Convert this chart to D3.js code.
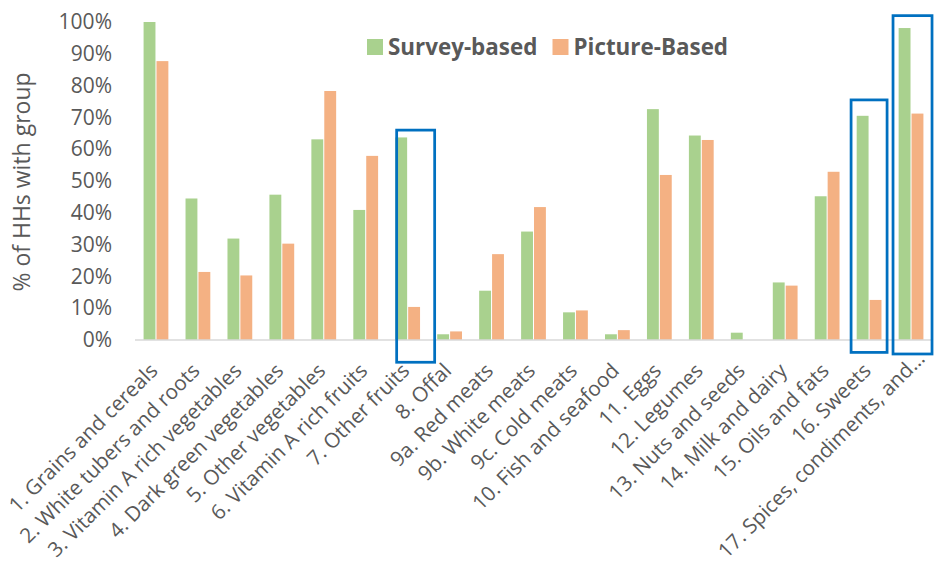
<!DOCTYPE html>
<html>
<head>
<meta charset="utf-8">
<script src="https://cdn.jsdelivr.net/npm/d3@7"></script>
<style>
  html, body { margin: 0; padding: 0; background: #fff; }
  svg { display: block; font-family: "Open Sans", "Noto Sans", sans-serif; }
</style>
</head>
<body>
<svg id="chart" width="941" height="564"></svg>
<script>
// Food groups reported per household
const categories = [
  "1. Grains and cereals", "2. White tubers and roots", "3. Vitamin A rich vegetables",
  "4. Dark green vegetables", "5. Other vegetables", "6. Vitamin A rich fruits",
  "7. Other fruits", "8. Offal", "9a. Red meats", "9b. White meats", "9c. Cold meats",
  "10. Fish and seafood", "11. Eggs", "12. Legumes", "13. Nuts and seeds",
  "14. Milk and dairy", "15. Oils and fats", "16. Sweets", "17. Spices, condiments, and…"
];
// % of households with each group
const surveyBased  = [100, 44.5, 31.9, 45.7, 63.1, 40.9, 63.7, 1.8, 15.5, 34.1, 8.7, 1.8, 72.6, 64.3, 2.3, 18.1, 45.2, 70.5, 98.1];
const pictureBased = [87.7, 21.4, 20.3, 30.3, 78.3, 57.9, 10.4, 2.7, 27.0, 41.8, 9.3, 3.1, 51.9, 62.9, 0, 17.1, 52.9, 12.6, 71.2];
const seriesNames = ["Survey-based", "Picture-Based"];
const yTicks = [0, 10, 20, 30, 40, 50, 60, 70, 80, 90, 100];
// Groups outlined for emphasis, with the value range each outline spans
const highlightGroups = ["7. Other fruits", "16. Sweets", "17. Spices, condiments, and…"];
const highlightTop    = [66, 75.5, 102];
const highlightBottom = [-7, -3.9, -4.4];

const colors = ["#A9D18E", "#F4B183"];
const textColor = "#595959";

const svg = d3.select("#chart");

const x0 = d3.scaleBand().domain(categories).range([135, 932])
  .paddingInner(0.36).paddingOuter(0.18);
const x1 = d3.scaleBand().domain(seriesNames).range([0, x0.bandwidth()]).padding(0.08);
const y = d3.scaleLinear().domain([0, 100]).range([340, 22]);

const rows = categories.map((c, i) => ({ cat: c, vals: [surveyBased[i], pictureBased[i]] }));

// Bars
const groups = svg.append("g").selectAll("g").data(rows).join("g")
  .attr("transform", d => `translate(${x0(d.cat)},0)`);
groups.selectAll("rect")
  .data(d => d.vals.map((v, k) => ({ k, v })).filter(e => e.v > 0))
  .join("rect")
  .attr("x", e => x1(seriesNames[e.k]))
  .attr("width", x1.bandwidth())
  .attr("y", e => y(e.v))
  .attr("height", e => y(0) - y(e.v))
  .attr("fill", e => colors[e.k]);

// Baseline
svg.append("line")
  .attr("x1", 135).attr("x2", 932)
  .attr("y1", y(0)).attr("y2", y(0))
  .attr("stroke", "#D9D9D9").attr("stroke-width", 1.5);

// Y axis tick labels
const yAxis = d3.axisLeft(y).tickValues(yTicks).tickFormat(d => d + "%").tickSize(0).tickPadding(0);
const yG = svg.append("g").attr("transform", "translate(112,0)").call(yAxis);
yG.select(".domain").remove();
yG.selectAll("text")
  .attr("fill", textColor).attr("font-size", 21)
  .attr("font-family", "'Open Sans', sans-serif");

// Y axis title
svg.append("text")
  .attr("transform", "translate(30,182) rotate(-90)")
  .attr("text-anchor", "middle")
  .attr("fill", textColor).attr("font-size", 23)
  .text("% of HHs with group");

// Category labels, rotated
const last = categories.length - 1;
svg.append("g").selectAll("text").data(categories).join("text")
  .attr("transform", d => `translate(${x0(d) + x0.bandwidth() / 2 + 3},372) rotate(-45)`)
  .attr("dx", (d, i) => i === last ? 17 : 0)
  .attr("text-anchor", "end")
  .attr("fill", textColor).attr("font-size", 20.6)
  .text(d => d);

// Highlight outlines
const boxPad = [[-11, 27], [-18, 18], [-18, 21]];
highlightGroups.forEach((c, i) => {
  const cx = x0(c) + x0.bandwidth() / 2;
  svg.append("rect")
    .attr("x", cx + boxPad[i][0])
    .attr("width", boxPad[i][1] - boxPad[i][0])
    .attr("y", y(highlightTop[i]))
    .attr("height", y(highlightBottom[i]) - y(highlightTop[i]))
    .attr("fill", "none")
    .attr("stroke", "#0070C0").attr("stroke-width", 2.75);
});

// Legend
const legend = svg.append("g").attr("transform", "translate(367,39)");
const legendX = [0, 185.5];
seriesNames.forEach((name, k) => {
  const g = legend.append("g").attr("transform", `translate(${legendX[k]},0)`);
  g.append("rect").attr("width", 16).attr("height", 16).attr("fill", colors[k]);
  g.append("text").attr("x", 21).attr("y", 15.5)
    .attr("fill", textColor).attr("font-size", 22.4).attr("font-weight", "bold")
    .text(name);
});
</script>
</body>
</html>
